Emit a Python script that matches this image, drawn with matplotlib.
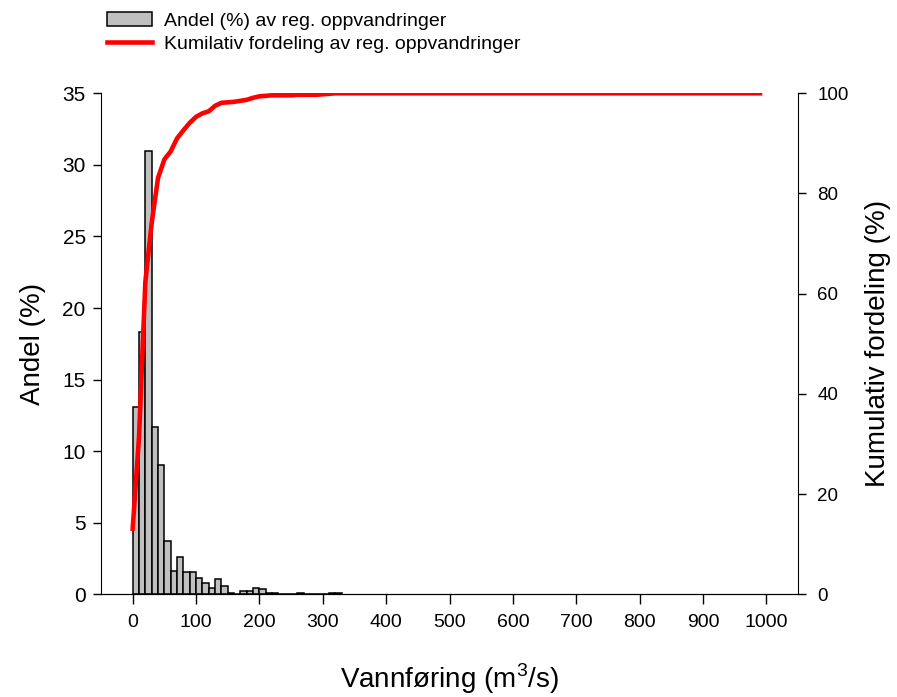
import matplotlib
matplotlib.use("Agg")
import matplotlib.pyplot as plt
import numpy as np

plt.rcParams['font.family'] = ['Liberation Sans', 'DejaVu Sans']
plt.rcParams['mathtext.fontset'] = 'custom'
plt.rcParams['mathtext.rm'] = 'Liberation Sans'

# andel (%) per klasse, 10 m3/s brede klasser fra 0
bin_start = [0, 10, 20, 30, 40, 50, 60, 70, 80, 90,
             100, 110, 120, 130, 140, 150, 160, 170, 180, 190,
             200, 210, 220, 230, 240, 250, 260, 270, 280, 290,
             300, 310, 320]
andel = [13.1, 18.3, 31.0, 11.7, 9.0, 3.7, 1.6, 2.6, 1.55, 1.55,
         1.15, 0.77, 0.41, 1.07, 0.6, 0.12, 0.0, 0.2, 0.2, 0.42,
         0.35, 0.1, 0.1, 0.0, 0.0, 0.0, 0.1, 0.0, 0.0, 0.0,
         0.0, 0.1, 0.1]

# kumulativ fordeling (%)
kum_x = [0, 10, 20, 30, 40, 50, 60, 70, 80, 90,
         100, 110, 120, 130, 140, 150, 160, 170, 180, 190,
         200, 210, 220, 230, 240, 250, 260, 270, 280, 290,
         300, 310, 320, 330, 990]
kum_y = [13.1, 31.4, 62.4, 74.1, 83.1, 86.8, 88.4, 91.0, 92.6, 94.1,
         95.3, 96.0, 96.4, 97.5, 98.1, 98.2, 98.3, 98.5, 98.7, 99.1,
         99.4, 99.5, 99.6, 99.6, 99.6, 99.6, 99.7, 99.7, 99.7, 99.7,
         99.8, 99.9, 100.0, 100.0, 100.0]

x_ticks = [0, 100, 200, 300, 400, 500, 600, 700, 800, 900, 1000]

fig = plt.figure(figsize=(8.97, 6.97), dpi=100)
ax = fig.add_axes([101/897, 1 - 594.3/697, (798 - 101)/897, (594.3 - 93.3)/697])

staver = ax.bar(bin_start, andel, width=10, align='edge', color='#c0c0c0',
                edgecolor='black', linewidth=1.1, label='Andel (%) av reg. oppvandringer')
ax.set_xlim(-50, 1050)
ax.set_ylim(0, 35)
ax.set_xticks(x_ticks)
ax.set_yticks(range(0, 36, 5))
ax.spines['top'].set_visible(False)
ax.spines['right'].set_visible(False)
ax.tick_params(axis='y', direction='out', length=6, width=1, labelsize=15, pad=5)
ax.tick_params(axis='x', direction='out', length=7, width=1, labelsize=14, pad=7)
ax.set_ylabel('Andel (%)', fontsize=20, labelpad=12)
ax.set_xlabel('Vannføring (m$^3$/s)', fontsize=20, labelpad=22)

ax2 = ax.twinx()
linje, = ax2.plot(kum_x, kum_y, color='red', linewidth=3.3,
                  label='Kumilativ fordeling av reg. oppvandringer')
ax2.set_ylim(0, 100)
ax2.set_yticks(range(0, 101, 20))
ax2.spines['top'].set_visible(False)
ax2.spines['left'].set_visible(False)
ax2.tick_params(axis='y', direction='out', length=6, width=1, labelsize=13.5, pad=8)
ax2.set_ylabel('Kumulativ fordeling (%)', fontsize=20, labelpad=12)

fig.legend(handles=[staver, linje], loc='upper left',
           bbox_to_anchor=(107/897, 1 - 12/697), frameon=False,
           fontsize=14, handlelength=2.3, handleheight=0.75,
           handletextpad=0.65, labelspacing=0.25, borderpad=0, borderaxespad=0)

fig.savefig('out.png', dpi=100)
